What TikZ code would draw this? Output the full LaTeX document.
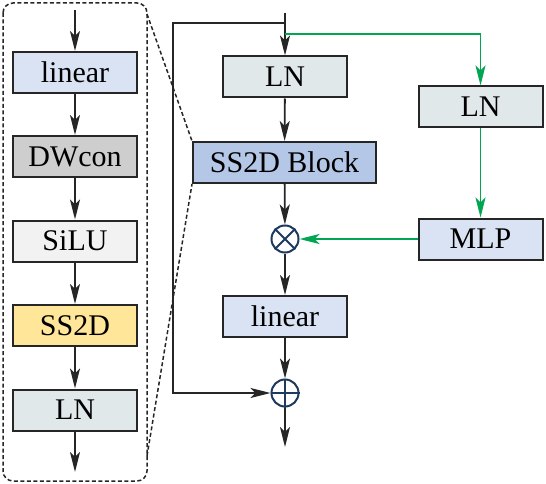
\documentclass[tikz,border=0pt]{standalone}
\usepackage{fontspec}
\setmainfont{Liberation Serif}
\usetikzlibrary{arrows.meta,calc}
\definecolor{clinear}{HTML}{DAE3F3}
\definecolor{cdw}{HTML}{CFCECE}
\definecolor{csilu}{HTML}{F2F2F2}
\definecolor{css}{HTML}{FFE699}
\definecolor{cln}{HTML}{E1E8EA}
\definecolor{cblock}{HTML}{B4C7E7}
\definecolor{cgreen}{HTML}{00A651}
\definecolor{cnavy}{HTML}{1F3A5F}
\tikzset{tip/.tip={Stealth[length=20pt,width=10pt,inset=5pt]}}
\begin{document}
\begin{tikzpicture}[x=1pt,y=-1pt,
  blk/.style={draw=black!85,line width=2pt,minimum width=124pt,minimum height=41pt,inner sep=0pt,font=\fontsize{30}{33}\selectfont},
  arr/.style={line width=1.8pt,draw=black!85,-tip},
  garr/.style={line width=1.8pt,draw=cgreen,-tip},
  opc/.style={circle,draw=cnavy,line width=2pt,minimum size=27pt,inner sep=0pt},
  dsh/.style={line width=1.5pt,dashed,dash pattern=on 4pt off 2.5pt,black!85}]
\useasboundingbox (0,0) rectangle (546,484);
% left detail column
\draw[dsh,rounded corners=10pt] (3,3) rectangle (147,481);
\node[blk,fill=clinear] (l1) at (75,72.5) {linear};
\node[blk,fill=cdw] (l2) at (75,156.5) {DWcon};
\node[blk,fill=csilu] (l3) at (75,241) {SiLU};
\node[blk,fill=css] (l4) at (75,325.5) {SS2D};
\node[blk,fill=cln] (l5) at (75,410) {LN};
\coordinate (lin) at (75,10);
\coordinate (lout) at (75,472);
\draw[arr] (lin) -- (l1);
\draw[arr] (l1) -- (l2);
\draw[arr] (l2) -- (l3);
\draw[arr] (l3) -- (l4);
\draw[arr] (l4) -- (l5);
\draw[arr] (l5) -- (lout);
% main column
\node[blk,fill=cln] (ln1) at (285,77) {LN};
\node[blk,fill=cblock,minimum width=183pt] (sb) at (284.5,162.5) {SS2D Block};
\node[opc] (mul) at (285,239) {};
\draw[cnavy,line width=2pt] (mul.north east) -- (mul.south west) (mul.north west) -- (mul.south east);
\node[blk,fill=clinear] (ln2) at (285,316.5) {linear};
\node[opc] (add) at (285,393) {};
\draw[cnavy,line width=2pt] (add.north) -- (add.south) (add.west) -- (add.east);
\node[blk,fill=cln] (rln) at (480.5,107) {LN};
\node[blk,fill=clinear] (mlp) at (480.5,239) {MLP};
% dashed zoom lines
\coordinate (dt) at (147,14);
\coordinate (db) at (147,456);
\draw[dsh] (dt) -- (sb.north west);
\draw[dsh] (db) -- (sb.south west);
% arrows main
\coordinate (min) at (285,13);
\coordinate (skipj) at (285,23);
\coordinate (gj) at (285,34);
\coordinate (mout) at (285,447);
\draw[arr] (min) -- (ln1);
\draw[arr] (ln1) -- (sb);
\draw[arr] (sb) -- (mul);
\draw[arr] (mul) -- (ln2);
\draw[arr] (ln2) -- (add);
\draw[arr] (add) -- (mout);
\draw[arr] (skipj) -- (173,23) -- (173,393) -- (add.west);
\draw[garr] (gj) -| (rln.north);
\draw[garr] (rln) -- (mlp);
\draw[garr] (mlp) -- (mul);
\end{tikzpicture}
\end{document}
